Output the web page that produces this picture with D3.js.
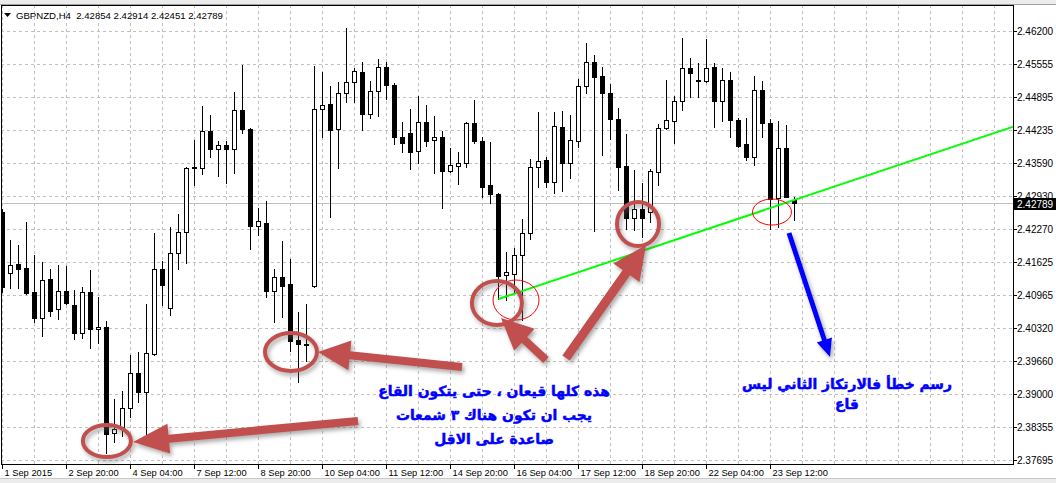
<!DOCTYPE html>
<html><head><meta charset="utf-8">
<script src="https://cdn.jsdelivr.net/npm/d3@7"></script>
<style>body{margin:0;background:#fff;overflow:hidden} svg{display:block}</style>
</head><body>
<script>
// ---------- data (GBPNZD H4, bar 0 = 1 Sep 2015 12:00) ----------
const opens = [2.42611,2.41403,2.41581,2.41501,2.41025,2.40510,2.41284,2.40689,2.41045,2.40768,
2.40213,2.41025,2.40293,2.40332,2.38231,2.38349,2.38726,2.39420,2.39043,2.39797,
2.41482,2.40708,2.41799,2.42215,2.43484,2.43484,2.44217,2.43861,2.43940,2.43861,
2.44634,2.44258,2.42334,2.42394,2.41045,2.41323,2.41185,2.40074,2.39995,2.41145,
2.44654,2.44753,2.44258,2.44971,2.45189,2.45387,2.44555,2.45010,2.45486,2.45130,
2.44098,2.44178,2.43821,2.44396,2.44039,2.44098,2.43424,2.43524,2.43584,2.44377,
2.44019,2.43147,2.42969,2.41363,2.41383,2.41759,2.42196,2.43504,2.43643,2.43206,
2.44297,2.43584,2.44019,2.45110,2.45585,2.45308,2.44971,2.44456,2.43524,2.42492,
2.42672,2.42611,2.43404,2.44277,2.44416,2.44812,2.45466,2.45209,2.45209,2.45486,
2.44812,2.45229,2.44436,2.43960,2.43702,2.45030,2.44377,2.42889,2.43880,2.42854];
const highs = [2.42672,2.42057,2.41958,2.42413,2.41759,2.41620,2.41482,2.41561,2.41541,2.41065,
2.41125,2.41462,2.40926,2.40451,2.38905,2.39063,2.39777,2.39836,2.40788,2.42196,
2.41640,2.42314,2.42572,2.43504,2.44039,2.44713,2.44535,2.44019,2.44019,2.44990,
2.45526,2.44277,2.42691,2.42830,2.41482,2.42037,2.41680,2.40629,2.40788,2.45506,
2.45387,2.45110,2.45189,2.46259,2.45466,2.45585,2.45209,2.45645,2.45585,2.45170,
2.44396,2.44654,2.44911,2.44733,2.44515,2.44217,2.43880,2.43801,2.44396,2.44832,
2.44098,2.43999,2.42989,2.41818,2.41898,2.42473,2.43663,2.44594,2.43702,2.44594,
2.44614,2.44535,2.45249,2.45963,2.45724,2.45486,2.45150,2.44673,2.44158,2.43444,
2.43187,2.43465,2.44357,2.45229,2.44911,2.46061,2.45664,2.45566,2.46042,2.45566,
2.45466,2.45387,2.44475,2.44475,2.45308,2.45209,2.44456,2.44416,2.44337,2.42914];
const lows = [2.41025,2.41105,2.41105,2.40986,2.40431,2.40153,2.40550,2.40491,2.40788,2.40094,
2.40113,2.39915,2.40015,2.37834,2.38052,2.38171,2.38547,2.38845,2.37993,2.39777,
2.40768,2.40570,2.41482,2.41601,2.43147,2.43365,2.43702,2.43325,2.43187,2.43385,
2.44178,2.41879,2.42156,2.40926,2.40431,2.40530,2.39856,2.39241,2.39658,2.41125,
2.44098,2.42512,2.43484,2.44792,2.44792,2.44237,2.44475,2.44515,2.44852,2.43960,
2.43801,2.43465,2.43584,2.43920,2.43385,2.42691,2.43404,2.43167,2.43504,2.43980,
2.42909,2.42791,2.40887,2.40867,2.41025,2.40471,2.42077,2.43107,2.43107,2.42989,
2.43028,2.43285,2.43900,2.44971,2.42235,2.43742,2.44059,2.43048,2.42275,2.42255,
2.42116,2.42413,2.43147,2.44258,2.43980,2.44634,2.44891,2.44891,2.45189,2.44297,
2.44416,2.44098,2.43900,2.43643,2.43544,2.44098,2.42275,2.42314,2.42900,2.42451];
const closes = [2.41125,2.41561,2.41482,2.41006,2.40510,2.41264,2.40649,2.41045,2.40808,2.40213,
2.41025,2.40293,2.40332,2.38211,2.38310,2.38726,2.39420,2.39043,2.39817,2.41482,
2.41165,2.41799,2.42215,2.43484,2.43504,2.44217,2.43861,2.43940,2.43861,2.44634,
2.44258,2.42334,2.42433,2.41045,2.41323,2.41145,2.40054,2.39995,2.39975,2.44654,
2.44733,2.44237,2.44971,2.45189,2.45407,2.44555,2.45010,2.45486,2.45130,2.44098,
2.43980,2.43801,2.44396,2.44019,2.44098,2.43424,2.43544,2.43584,2.44377,2.44019,
2.43107,2.42969,2.41343,2.41422,2.41759,2.42196,2.43504,2.43623,2.43206,2.44317,
2.43584,2.44039,2.45110,2.45585,2.45288,2.44971,2.44456,2.43504,2.42492,2.42672,
2.42492,2.43424,2.44277,2.44436,2.44812,2.45466,2.45368,2.45219,2.45466,2.44812,
2.45229,2.44436,2.43920,2.43702,2.45030,2.44377,2.42870,2.43880,2.42909,2.42789];

const timeLabels = ["1 Sep 2015","2 Sep 20:00","4 Sep 04:00","7 Sep 12:00","8 Sep 20:00","10 Sep 04:00",
"11 Sep 12:00","14 Sep 20:00","16 Sep 04:00","17 Sep 12:00","18 Sep 20:00","22 Sep 04:00","23 Sep 12:00"];
const timeLabelBars = [0,8,16,24,32,40,48,56,64,72,80,88,96];
const priceTicks = ["2.46200","2.45555","2.44895","2.44235","2.43590","2.42930","2.42270",
"2.41625","2.40965","2.40320","2.39660","2.39000","2.38355","2.37695"];
const titleText = "GBPNZD,H4  2.42854 2.42914 2.42451 2.42789";
const currentPrice = 2.42789;
const trendPoints = [[62, 2.40887], [126, 2.44285]];

// annotations in chart units: [bar, price]
const brownEllipses = [[13.05,2.38072,24,16],[36.06,2.39836,26,19],[61.8,2.40808,25,22],[79.44,2.42374,21,22]];
const redEllipses = [[64.19,2.40867,23,20],[96.19,2.42611,19.5,13]];
const brownArrows = [[[44.44,2.38468],[16.31,2.38052]],[[57.44,2.39539],[39.44,2.39836]],
                     [[67.94,2.39678],[62.31,2.40510]],[[70.44,2.39717],[80.44,2.41958]]];
const blueArrow = [[98.31,2.42196],[103.44,2.39737]];
const noteLeft = ["هذه كلها قيعان ، حتى يتكون القاع","يجب ان تكون هناك ٣ شمعات","صاعدة على الاقل"];
const noteLeftPos = [61.44, [2.38964, 2.38488, 2.38013]];
const noteRight = ["رسم خطأ فالارتكاز الثاني ليس","قاع"];
const noteRightPos = [105.56, [2.39103, 2.38707]];

// ---------- layout ----------
const W = 1056, H = 483;
const plotL = 1, plotR = 1013, plotT = 5, plotB = 464;
const x = d3.scaleLinear().domain([0, 1]).range([2.5, 10.5]);
const y = d3.scaleLinear().domain([2.37695, 2.46200]).range([460, 31]);
const brown = "#c0504d";

const svg = d3.select("body").append("svg").attr("width", W).attr("height", H)
  .style("font-family", "'Liberation Sans', Arial, sans-serif");
const defs = svg.append("defs");
defs.append("clipPath").attr("id", "plot").append("rect")
  .attr("x", plotL).attr("y", plotT).attr("width", plotR - plotL).attr("height", plotB - plotT);
const f = defs.append("filter").attr("id", "sh").attr("x", "-30%").attr("y", "-30%").attr("width", "160%").attr("height", "160%");
f.append("feDropShadow").attr("dx", 2).attr("dy", 3).attr("stdDeviation", 2.2)
  .attr("flood-color", "#666").attr("flood-opacity", 0.55);

// window strips
svg.append("rect").attr("x", 0).attr("y", 0).attr("width", W).attr("height", 4).attr("fill", "#ececec");
svg.append("line").attr("x1", 0).attr("x2", W).attr("y1", 4.5).attr("y2", 4.5).attr("stroke", "#a0a0a0");
svg.append("rect").attr("x", 0).attr("y", 479).attr("width", W).attr("height", 4).attr("fill", "#ececec");
svg.append("line").attr("x1", 0).attr("x2", W).attr("y1", 478.5).attr("y2", 478.5).attr("stroke", "#c8c8c8");

const plot = svg.append("g").attr("clip-path", "url(#plot)");

// grid
const grid = plot.append("g").attr("stroke", "#c0c0c0").attr("stroke-dasharray", "3,3");
priceTicks.forEach(t => {
  const yy = Math.round(y(+t)) + 0.5;
  grid.append("line").attr("x1", plotL).attr("x2", plotR).attr("y1", yy).attr("y2", yy);
});
d3.range(0, 127, 4).forEach(i => {
  const xx = Math.floor(x(i)) + 0.5;
  grid.append("line").attr("x1", xx).attr("x2", xx).attr("y1", plotT).attr("y2", plotB);
});
// current price line
plot.append("line").attr("x1", plotL).attr("x2", plotR)
  .attr("y1", Math.round(y(currentPrice)) + 0.5).attr("y2", Math.round(y(currentPrice)) + 0.5)
  .attr("stroke", "#c0c0c0");

// candles
const candles = plot.append("g");
opens.forEach((o, i) => {
  const c = closes[i], hi = highs[i], lo = lows[i];
  const cx = Math.floor(x(i)) + 0.5;
  const g = candles.append("g");
  g.append("line").attr("x1", cx).attr("x2", cx)
    .attr("y1", Math.round(y(hi))).attr("y2", Math.round(y(lo)) + 1)
    .attr("stroke", "#000");
  const yt = Math.round(y(Math.max(o, c))) + 0.5, yb = Math.round(y(Math.min(o, c))) + 0.5;
  if (yb - yt < 1) {
    g.append("line").attr("x1", cx - 2.5).attr("x2", cx + 2.5).attr("y1", yt).attr("y2", yt).attr("stroke", "#000");
  } else {
    g.append("rect").attr("x", cx - 2).attr("width", 4).attr("y", yt).attr("height", yb - yt)
      .attr("fill", c >= o ? "#fff" : "#000").attr("stroke", "#000");
  }
});

// trend line (ray)
const slope = (trendPoints[1][1] - trendPoints[0][1]) / (trendPoints[1][0] - trendPoints[0][0]);
const endBar = x.invert(plotR + 2);
plot.append("line")
  .attr("x1", x(trendPoints[0][0])).attr("y1", y(trendPoints[0][1]))
  .attr("x2", x(endBar)).attr("y2", y(trendPoints[0][1] + slope * (endBar - trendPoints[0][0])))
  .attr("stroke", "#00ff00").attr("stroke-width", 2);

// red thin ellipses
redEllipses.forEach(e => {
  plot.append("ellipse").attr("cx", x(e[0])).attr("cy", y(e[1])).attr("rx", e[2]).attr("ry", e[3])
    .attr("fill", "none").attr("stroke", "#ff0000").attr("stroke-width", 1);
});

// frame
svg.append("rect").attr("x", plotL + 0.5).attr("y", plotT + 0.5).attr("width", plotR - plotL).attr("height", plotB - plotT)
  .attr("fill", "none").attr("stroke", "#000");

// price axis
const pa = svg.append("g");
priceTicks.forEach(t => {
  const yy = Math.round(y(+t)) + 0.5;
  pa.append("line").attr("x1", plotR + 1).attr("x2", plotR + 4).attr("y1", yy).attr("y2", yy).attr("stroke", "#000");
  pa.append("text").attr("x", plotR + 4).attr("y", yy + 3).attr("font-size", 10).attr("fill", "#000").text(t);
});
const cpY = Math.round(y(currentPrice));
pa.append("rect").attr("x", plotR + 1).attr("y", cpY - 5).attr("width", 42).attr("height", 12).attr("fill", "#000");
pa.append("text").attr("x", plotR + 4).attr("y", cpY + 4.5).attr("font-size", 10).attr("fill", "#fff").text(currentPrice.toFixed(5));

// time axis
const ta = svg.append("g");
timeLabels.forEach((t, k) => {
  const xx = Math.floor(x(timeLabelBars[k])) + 0.5;
  ta.append("line").attr("x1", xx).attr("x2", xx).attr("y1", plotB).attr("y2", plotB + 5).attr("stroke", "#000");
  ta.append("text").attr("x", xx + 2).attr("y", 475.5).attr("font-size", 9.3).attr("fill", "#000").text(t);
});

// title
svg.append("path").attr("d", "M4,13 L11,13 L7.5,17 Z").attr("fill", "#000");
svg.append("text").attr("x", 16).attr("y", 18.5).attr("font-size", 9.6).attr("fill", "#000")
  .attr("xml:space", "preserve").style("white-space", "pre").text(titleText);

// annotations
const ann = svg.append("g").attr("clip-path", "url(#plot)");
function arrowPts(p1, p2, w, L, Wd) {
  const x1 = x(p1[0]), y1 = y(p1[1]), x2 = x(p2[0]), y2 = y(p2[1]);
  const dx = x2 - x1, dy = y2 - y1, len = Math.hypot(dx, dy);
  const ux = dx / len, uy = dy / len, px = -uy, py = ux;
  const bx = x2 - ux * L, by = y2 - uy * L;
  return [[x1 + px * w / 2, y1 + py * w / 2], [bx + px * w / 2, by + py * w / 2], [bx + px * Wd / 2, by + py * Wd / 2],
          [x2, y2], [bx - px * Wd / 2, by - py * Wd / 2], [bx - px * w / 2, by - py * w / 2], [x1 - px * w / 2, y1 - py * w / 2]];
}
const brownG = ann.append("g").attr("filter", "url(#sh)");
brownEllipses.forEach(e => {
  brownG.append("ellipse").attr("cx", x(e[0])).attr("cy", y(e[1])).attr("rx", e[2]).attr("ry", e[3])
    .attr("fill", "none").attr("stroke", brown).attr("stroke-width", 4);
});
const arrowSizes = [[8, 36, 30], [8, 32, 30], [8, 32, 30], [9, 34, 32]];
brownArrows.forEach((a, k) => {
  const s = arrowSizes[k];
  brownG.append("polygon").attr("points", arrowPts(a[0], a[1], s[0], s[1], s[2]).map(p => p.join(",")).join(" "))
    .attr("fill", brown);
});
ann.append("g").attr("filter", "url(#sh)").append("polygon")
  .attr("points", arrowPts(blueArrow[0], blueArrow[1], 5, 18, 16).map(p => p.join(",")).join(" "))
  .attr("fill", "#0000ff");

function noteBlock(lines, pos, targetW) {
  const g = svg.append("g");
  const texts = lines.map((t, k) => g.append("text")
    .attr("x", x(pos[0])).attr("y", y(pos[1][k])).attr("text-anchor", "middle")
    .attr("direction", "rtl").attr("font-weight", "bold").attr("font-size", 16)
    .style("font-family", "'DejaVu Sans', Arial, sans-serif").attr("fill", "#0000ff")
    .attr("stroke", "#0000ff").attr("stroke-width", 0.5).text(t));
  const w0 = texts[0].node().getComputedTextLength();
  const fs = 16 * targetW / w0;
  texts.forEach(t => t.attr("font-size", fs));
}
noteBlock(noteLeft, noteLeftPos, 232);
noteBlock(noteRight, noteRightPos, 210);
</script>
</body></html>
